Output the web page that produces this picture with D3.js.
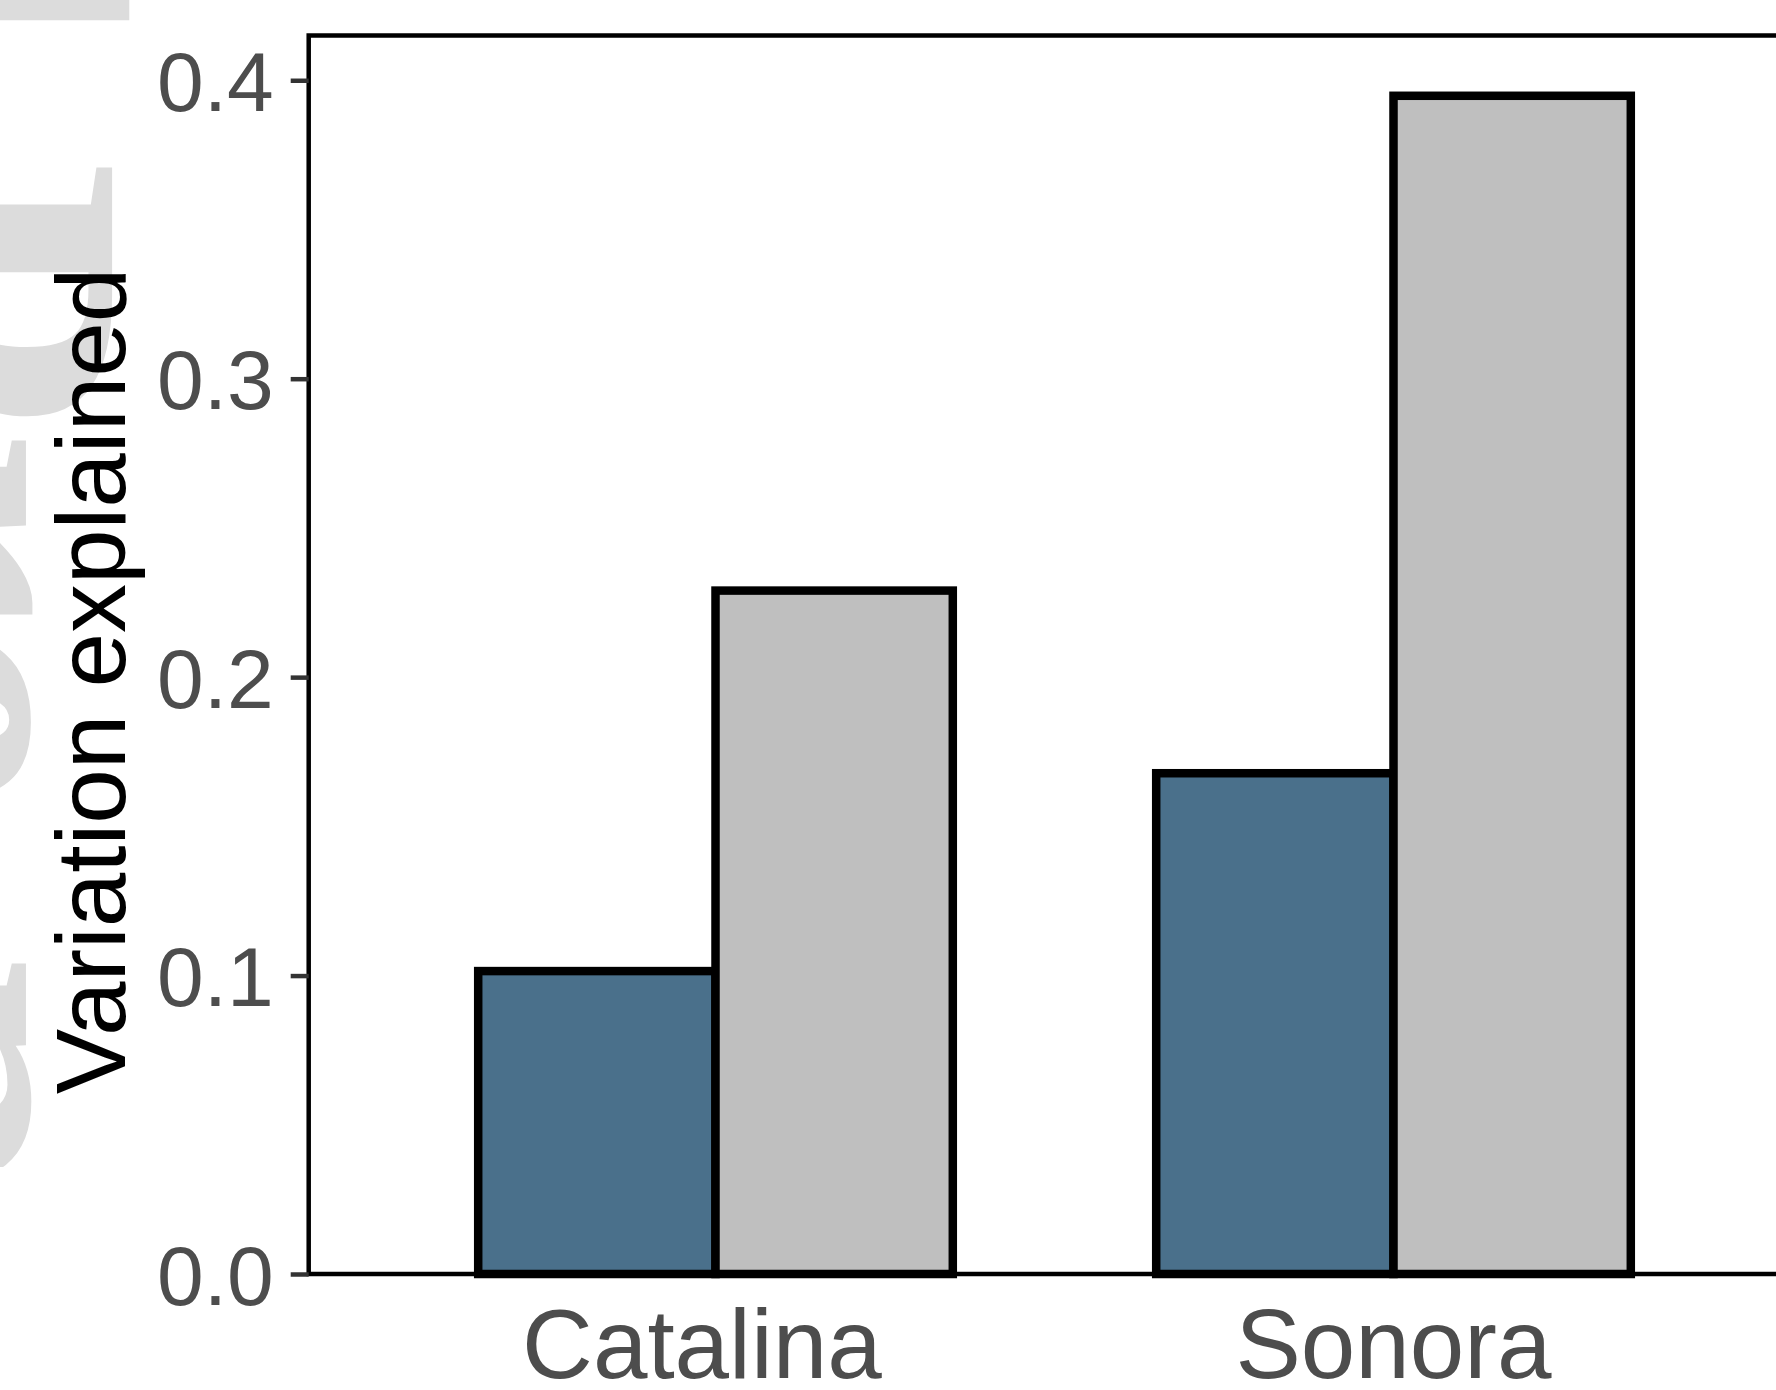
<!DOCTYPE html>
<html><head><meta charset="utf-8">
<script src="https://cdn.jsdelivr.net/npm/d3@7"></script>
<style>html,body{margin:0;padding:0;background:#fff;} svg{display:block;}</style>
</head><body>
<script>
// ---- data ----
const categories = ["Catalina\u00A0", "Sonora"];
const seriesNames = ["series1", "series2"];
const series1Values = [0.1015, 0.1678];
const series2Values = [0.229, 0.3948];
const seriesColors = ["#4A708B", "#BFBFBF"];
const yTicks = [0.0, 0.1, 0.2, 0.3, 0.4];
const yTitle = "Variation explained";
const watermarkText = "Journal Pre-proof";

const W = 1776, H = 1390;
const svg = d3.select("body").append("svg").attr("width", W).attr("height", H);

// watermark (light grey, rotated, mostly off-canvas)
svg.append("defs").append("clipPath").attr("id", "wmclip")
  .append("rect").attr("x", 0).attr("y", 0).attr("width", 300).attr("height", 1167);
svg.append("g").attr("clip-path", "url(#wmclip)")
  .append("g")
  .attr("transform", "translate(-176,0) rotate(90)")
  .append("text")
  .attr("x", -1417).attr("y", 0)
  .attr("font-family", "'Liberation Serif', 'Times New Roman', serif")
  .attr("font-weight", "bold")
  .attr("font-size", 440)
  .attr("fill", "#dcdcdc")
  .text(watermarkText);

const x = d3.scaleBand().domain(categories).range([308.7, 1800.3]).paddingInner(0.3).paddingOuter(0.25);
const xs = d3.scaleBand().domain(seriesNames).range([0, x.bandwidth()]).padding(0);
const y = d3.scaleLinear().domain([0, 0.415]).range([1274, 35.5]);

const rows = [];
categories.forEach((c, i) => {
  rows.push({cat: c, s: seriesNames[0], v: series1Values[i], col: seriesColors[0]});
  rows.push({cat: c, s: seriesNames[1], v: series2Values[i], col: seriesColors[1]});
});

svg.append("g").selectAll("rect").data(rows).join("rect")
  .attr("x", d => x(d.cat) + xs(d.s))
  .attr("y", d => y(d.v))
  .attr("width", xs.bandwidth())
  .attr("height", d => y(0) - y(d.v))
  .attr("fill", d => d.col)
  .attr("stroke", "#000")
  .attr("stroke-width", 8.5)
  .attr("stroke-linejoin", "miter");

// panel border
svg.append("rect")
  .attr("x", x.range()[0]).attr("y", y.range()[1])
  .attr("width", x.range()[1] - x.range()[0])
  .attr("height", y.range()[0] - y.range()[1])
  .attr("fill", "none").attr("stroke", "#000").attr("stroke-width", 4.5);

const font = "'Liberation Sans', Arial, sans-serif";

// y axis
const gy = svg.append("g").attr("transform", `translate(${x.range()[0]},0)`)
  .call(d3.axisLeft(y).tickValues(yTicks).tickSize(18).tickPadding(17).tickFormat(d3.format(".1f")));
gy.select(".domain").remove();
gy.selectAll(".tick line").attr("stroke", "#333333").attr("stroke-width", 4.5);
gy.selectAll(".tick text").attr("font-family", font).attr("font-size", 84).attr("fill", "#4d4d4d").attr("dy", "0.36em");

// x axis
const gx = svg.append("g").attr("transform", `translate(0,${y(0)})`)
  .call(d3.axisBottom(x).tickSize(0).tickPadding(34));
gx.select(".domain").remove();
gx.selectAll(".tick text").attr("font-family", font).attr("font-size", 98).attr("fill", "#4d4d4d")
  .attr("xml:space", "preserve");

// y title
svg.append("text")
  .attr("transform", "translate(125,681) rotate(-90)")
  .attr("text-anchor", "middle")
  .attr("font-family", font).attr("font-size", 98).attr("fill", "#000")
  .text(yTitle);
</script>
</body></html>
